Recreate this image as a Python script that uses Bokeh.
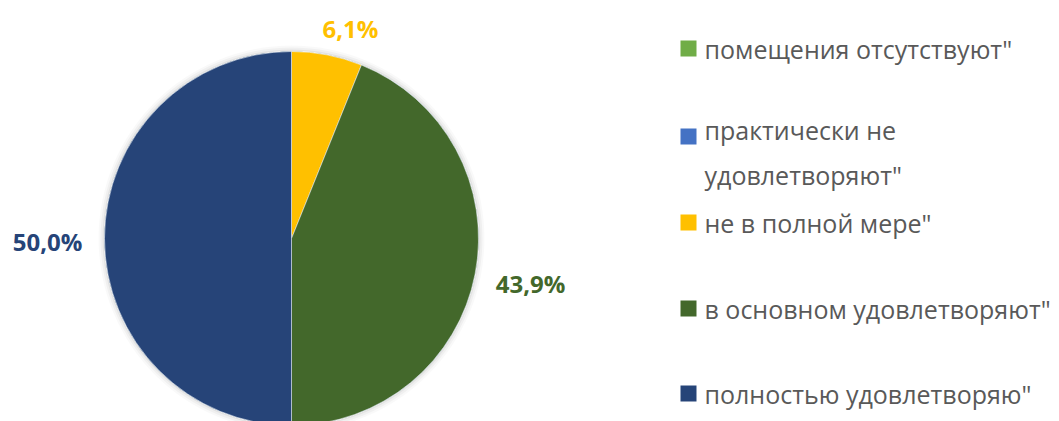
import math
from bokeh.plotting import figure
from bokeh.models import Range1d, ColumnDataSource
from bokeh.core.properties import value
from bokeh.embed import file_html
from bokeh.resources import INLINE

# ---- data ----
categories = [
    'помещения отсутствуют"',
    'практически не\nудовлетворяют"',
    'не в полной мере"',
    'в основном удовлетворяют"',
    'полностью удовлетворяю"',
]
shares = [0.0, 0.0, 6.1, 43.9, 50.0]
colors = ["#70AD47", "#4472C4", "#FFC000", "#43682B", "#264478"]
pct_labels = ["", "", "6,1%", "43,9%", "50,0%"]

W, H = 1059, 421
p = figure(width=W, height=H, output_backend="svg", toolbar_location=None,
           x_range=Range1d(0, W), y_range=Range1d(0, H), min_border=0,
           background_fill_color="white", border_fill_color="white")
p.axis.visible = False
p.grid.visible = False
p.outline_line_color = None

def sx(x):  # reference pixel -> data
    return x
def sy(y):
    return H - y

cx, cy, r = sx(291), sy(238), 187

# soft shadow
for k, a in [(6, 0.025), (4, 0.035), (2, 0.05)]:
    p.circle(x=[cx], y=[cy], radius=r + k, fill_color="#000000", fill_alpha=a,
             line_color=None)

total = sum(shares)
starts, ends = [], []
ang = 90.0
for s in shares:
    starts.append(math.radians(ang))
    ang -= s / total * 360.0
    ends.append(math.radians(ang))

src = ColumnDataSource(dict(start=starts, end=ends, color=colors, share=shares))
p.wedge(x=cx, y=cy, radius=r, start_angle="start", end_angle="end",
        direction="clock", fill_color="color", line_color="white",
        line_width=0.5, source=src)

# percentage labels (positions for non-zero slices)
lab_pos = {2: (350, 28), 3: (530, 283), 4: (47, 241)}
lx, ly, lt, lc = [], [], [], []
for i, (px, py) in lab_pos.items():
    lx.append(sx(px)); ly.append(sy(py)); lt.append(pct_labels[i]); lc.append(colors[i])
p.text(x=lx, y=ly, text=lt, text_color=lc, text_font=value("Open Sans"),
       text_font_size="24px", text_font_style="bold", text_align="center",
       text_baseline="middle")

# legend
row_y = [48, 152, 222, 308, 393]
sq_y = [48, 136, 222, 308, 393]
p.rect(x=[sx(688)] * 5, y=[sy(v) for v in sq_y], width=16, height=16,
       width_units="screen", height_units="screen", fill_color=colors,
       line_color=None)
p.text(x=[sx(704)] * 5, y=[sy(v) for v in row_y], text=categories,
       text_color="#595959", text_font=value("Open Sans"), text_font_size="25px",
       text_align="left", text_baseline="middle", text_line_height=1.3)

open("out.html", "w").write(file_html(p, INLINE))
